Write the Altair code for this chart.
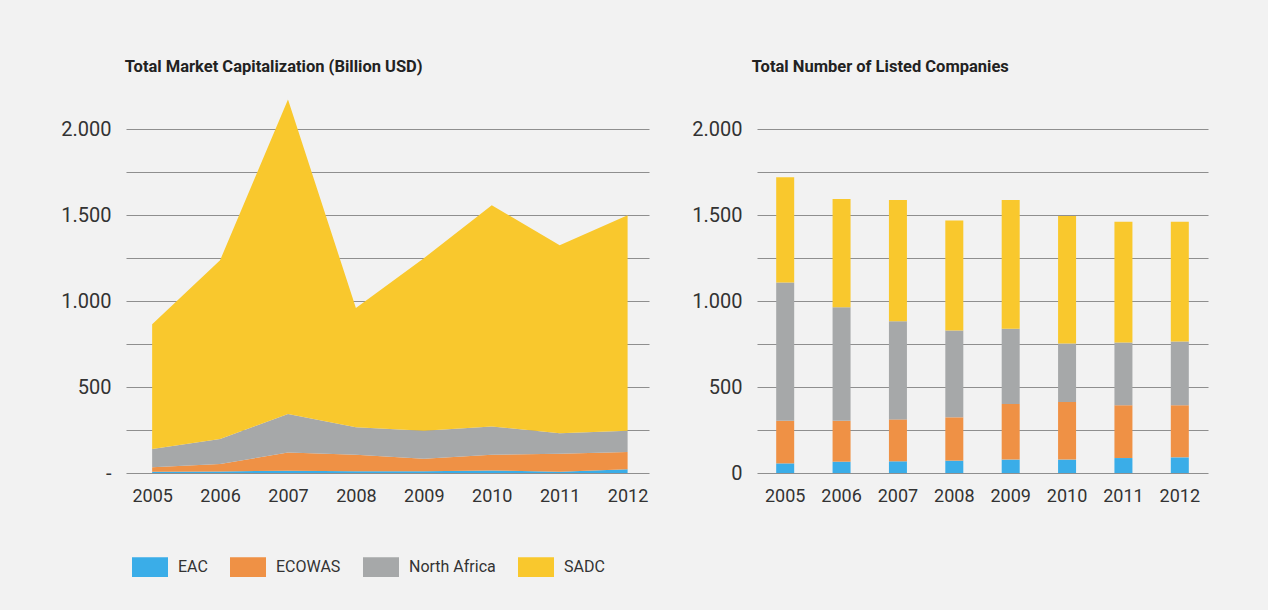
import altair as alt
import pandas as pd

years = [2005, 2006, 2007, 2008, 2009, 2010, 2011, 2012]
regions = ["EAC", "ECOWAS", "North Africa", "SADC"]
colors = ["#3aade8", "#ef9145", "#a6a8a9", "#f9c82d"]

# Total market capitalization (billion USD)
cap_eac = [7, 9, 13, 10, 10, 15, 8, 22]
cap_ecowas = [26, 43, 107, 96, 73, 91, 104, 100]
cap_na = [107, 146, 223, 160, 163, 165, 120, 124]
cap_sadc = [726, 1040, 1831, 694, 1004, 1287, 1094, 1254]

# Total number of listed companies
cos_eac = [56, 66, 68, 72, 78, 78, 87, 91]
cos_ecowas = [248, 238, 244, 252, 323, 335, 308, 304]
cos_na = [805, 660, 571, 506, 438, 341, 365, 370]
cos_sadc = [613, 631, 706, 639, 750, 742, 703, 698]

y_ticks = list(range(0, 2001, 250))


def build(series):
    rows = []
    for k, (name, vals) in enumerate(zip(regions, series)):
        for yr, v in zip(years, vals):
            rows.append({"year": yr, "region": name, "value": v, "order": k})
    return pd.DataFrame(rows)


df_cap = build([cap_eac, cap_ecowas, cap_na, cap_sadc])
df_cos = build([cos_eac, cos_ecowas, cos_na, cos_sadc])

FONT = "Roboto"
TXT = "#333333"

color = alt.Color(
    "region:N",
    scale=alt.Scale(domain=regions, range=colors),
    legend=alt.Legend(
        orient="none",
        legendX=6,
        legendY=454,
        direction="horizontal",
        title=None,
        symbolType="M-1,-0.55L1,-0.55L1,0.55L-1,0.55Z",
        symbolSize=1296,
        symbolStrokeWidth=0,
        symbolOpacity=1,
        labelFontSize=16,
        labelFont=FONT,
        labelColor=TXT,
        labelOffset=10,
        columnPadding=22,
    ),
)


def y_axis(zero_label):
    return alt.Axis(
        values=y_ticks,
        labelExpr=(
            "datum.value % 500 == 0 ? (datum.value == 0 ? '" + zero_label +
            "' : replace(format(datum.value, ','), ',', '.')) : ''"
        ),
        title=None,
        ticks=False,
        domain=False,
        labelPadding=15,
        labelFontSize=20,
        labelFont=FONT,
        labelColor=TXT,
        grid=True,
        gridColor="#8f8f8f",
        gridWidth=1,
    )


x_axis = dict(
    title=None,
    ticks=False,
    domain=False,
    grid=False,
    labelPadding=14,
    labelFontSize=18,
    labelFont=FONT,
    labelColor=TXT,
    labelAngle=0,
)

left = (
    alt.Chart(df_cap)
    .mark_area(opacity=1)
    .encode(
        x=alt.X(
            "year:Q",
            scale=alt.Scale(domain=[2004.615, 2012.315], nice=False, zero=False),
            axis=alt.Axis(values=years, format="d", **x_axis),
        ),
        y=alt.Y(
            "value:Q",
            stack="zero",
            scale=alt.Scale(domain=[0, 2200], nice=False),
            axis=y_axis("-"),
        ),
        color=color,
        order=alt.Order("order:Q", sort="ascending"),
    )
    .properties(
        width=523,
        height=378,
        title=alt.TitleParams(
            "Total Market Capitalization (Billion USD)",
            anchor="start",
            dx=64,
            offset=20,
            fontSize=16.5,
            font=FONT,
            fontWeight="bold",
            color="#222222",
        ),
    )
)

right = (
    alt.Chart(df_cos)
    .mark_bar(size=18)
    .encode(
        x=alt.X(
            "year:O",
            scale=alt.Scale(paddingInner=0.68, paddingOuter=0.34),
            axis=alt.Axis(**x_axis),
        ),
        y=alt.Y(
            "value:Q",
            stack="zero",
            scale=alt.Scale(domain=[0, 2200], nice=False),
            axis=y_axis("0"),
        ),
        color=color,
        order=alt.Order("order:Q", sort="ascending"),
    )
    .properties(
        width=451,
        height=378,
        title=alt.TitleParams(
            "Total Number of Listed Companies",
            anchor="start",
            dx=60,
            offset=20,
            fontSize=16.5,
            font=FONT,
            fontWeight="bold",
            color="#222222",
        ),
    )
)

chart = (
    alt.hconcat(left, right, spacing=42)
    .resolve_scale(color="shared")
    .properties(
        background="#f2f2f2",
        padding={"left": 60, "top": 58, "right": 60, "bottom": 34},
    )
    .configure_view(stroke=None)
)

chart.save("out.html", embed_options={"renderer": "svg", "actions": False})
